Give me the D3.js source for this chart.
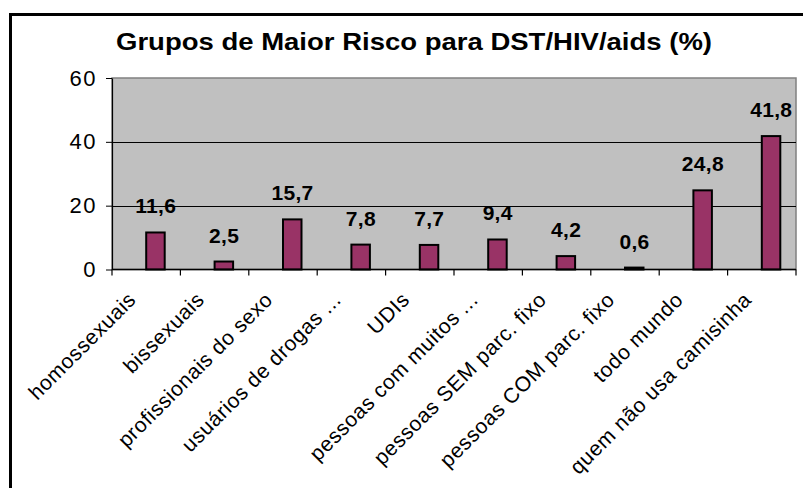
<!DOCTYPE html>
<html>
<head>
<meta charset="utf-8">
<title>Grupos de Maior Risco</title>
<script src="https://cdn.jsdelivr.net/npm/d3@7"></script>
<style>
  body { margin: 0; background: #fff; }
  text { font-family: Arial, "Liberation Sans", sans-serif; }
</style>
</head>
<body>
<svg id="chart" width="803" height="488"></svg>
<script>
// data
var categories = ["homossexuais", "bissexuais", "profissionais do sexo", "usuários de drogas ...",
                  "UDIs", "pessoas com muitos ...", "pessoas SEM parc. fixo", "pessoas COM parc. fixo",
                  "todo mundo", "quem não usa camisinha"];
var values = [11.6, 2.5, 15.7, 7.8, 7.7, 9.4, 4.2, 0.6, 24.8, 41.8];
var yTicks = [0, 20, 40, 60];
var title = "Grupos de Maior Risco para DST/HIV/aids (%)";

var svg = d3.select("#chart");

// plot area (note: "top" is taken by window.top, so use other names)
var plotL = 112, plotR = 796, plotT = 78, plotB = 269.5;

var x = d3.scaleBand().domain(categories).range([plotL, plotR]).padding(0);
var y = d3.scaleLinear().domain([0, 60]).range([plotB, plotT]);
var bw = x.bandwidth();

var ptBR = d3.formatLocale({decimal: ",", thousands: ".", grouping: [3], currency: ["R$", ""]});
var fmt = ptBR.format(".1f");

// outer frame (runs off the right / bottom of the picture)
svg.append("rect")
  .attr("x", 10.5).attr("y", 14.5)
  .attr("width", 820).attr("height", 500)
  .attr("fill", "none").attr("stroke", "#000").attr("stroke-width", 3);

// title
svg.append("text")
  .attr("x", 414).attr("y", 50)
  .attr("text-anchor", "middle")
  .attr("font-size", 24).attr("font-weight", "bold")
  .attr("textLength", 596).attr("lengthAdjust", "spacingAndGlyphs")
  .text(title);

// grey plot background
svg.append("rect")
  .attr("x", plotL).attr("y", plotT)
  .attr("width", plotR - plotL).attr("height", plotB - plotT)
  .attr("fill", "#c0c0c0").attr("stroke", "#808080").attr("stroke-width", 1.5);

// gridlines
svg.append("g").selectAll("line")
  .data(yTicks.filter(function(d) { return d > 0 && d < 60; }))
  .enter().append("line")
    .attr("x1", plotL).attr("x2", plotR)
    .attr("y1", function(d) { return Math.round(y(d)) + 0.5; })
    .attr("y2", function(d) { return Math.round(y(d)) + 0.5; })
    .attr("stroke", "#000").attr("stroke-width", 1);

// y axis
var yAxis = svg.append("g")
  .attr("transform", "translate(" + plotL + ",0)")
  .call(d3.axisLeft(y).tickValues(yTicks).tickSize(6).tickPadding(9).tickSizeOuter(0));
yAxis.select(".domain").attr("stroke", "#000").attr("stroke-width", 1.2);
yAxis.selectAll("text").attr("font-size", 22).attr("fill", "#000")
  .attr("letter-spacing", 1.5).attr("font-family", "Arial, 'Liberation Sans', sans-serif");

// bars
svg.append("g").selectAll("rect")
  .data(values)
  .enter().append("rect")
    .attr("x", function(d, i) { return x(categories[i]) + bw / 2; })
    .attr("y", function(d) { return y(d); })
    .attr("width", 18.5)
    .attr("height", function(d) { return plotB - y(d); })
    .attr("fill", "#993366")
    .attr("stroke", "#000").attr("stroke-width", 2);

// value labels
svg.append("g").selectAll("text")
  .data(values)
  .enter().append("text")
    .attr("x", function(d, i) { return x(categories[i]) + bw / 2 + 9.5; })
    .attr("y", function(d) { return y(d) - 19; })
    .attr("text-anchor", "middle")
    .attr("font-size", 21).attr("font-weight", "bold")
    .attr("letter-spacing", 0.3)
    .text(function(d) { return fmt(d); });

// x axis line and ticks at band edges
svg.append("line")
  .attr("x1", plotL).attr("x2", plotR)
  .attr("y1", plotB).attr("y2", plotB)
  .attr("stroke", "#000").attr("stroke-width", 1.5);
var edges = categories.map(function(c) { return x(c); }).concat([plotR]);
svg.append("g").selectAll("line")
  .data(edges)
  .enter().append("line")
    .attr("x1", function(d) { return d; }).attr("x2", function(d) { return d; })
    .attr("y1", plotB).attr("y2", plotB + 6)
    .attr("stroke", "#000").attr("stroke-width", 1.2);

// rotated category labels
svg.append("g").selectAll("text")
  .data(categories)
  .enter().append("text")
    .attr("transform", function(d) {
      return "translate(" + (x(d) + bw / 2 - 9) + "," + 301 + ") rotate(-45)";
    })
    .attr("text-anchor", "end")
    .attr("font-size", 21)
    .attr("letter-spacing", 0.6)
    .text(function(d) { return d; });
</script>
</body>
</html>
